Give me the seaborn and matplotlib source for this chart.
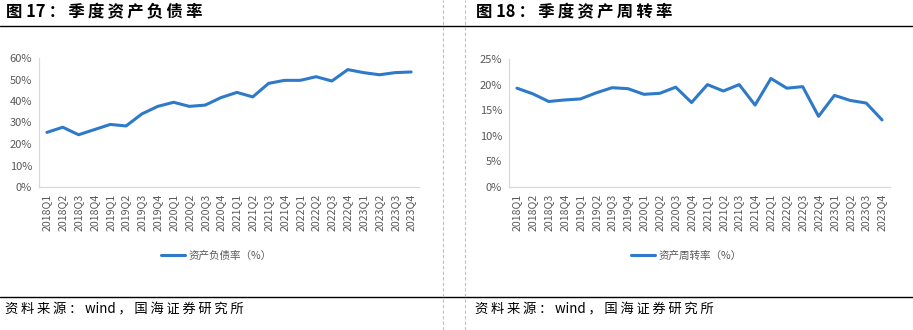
import matplotlib
matplotlib.use("Agg")
import matplotlib.pyplot as plt
from matplotlib.lines import Line2D
from matplotlib.ticker import FuncFormatter, FixedLocator
import seaborn as sns
import pandas as pd
import numpy as np

quarters = [f"{y}Q{q}" for y in range(2018, 2024) for q in range(1, 5)]
debt_ratio = [25.4, 27.8, 24.3, 26.7, 29.1, 28.4, 34.0, 37.5, 39.4, 37.5, 38.1, 41.6,
              44.0, 41.9, 48.2, 49.6, 49.6, 51.3, 49.3, 54.6, 53.2, 52.2, 53.2, 53.5]
turnover = [19.3, 18.2, 16.7, 17.0, 17.2, 18.4, 19.4, 19.2, 18.1, 18.3, 19.5, 16.5,
            20.0, 18.75, 20.0, 16.0, 21.2, 19.3, 19.6, 13.8, 17.9, 16.9, 16.4, 13.1]

title_left = "图 17：季度资产负债率"
title_right = "图 18：季度资产周转率"
legend_left = "资产负债率（%）"
legend_right = "资产周转率（%）"
source = "资料来源：wind，国海证券研究所"

sns.set_theme(style="white")
plt.rcParams['font.family'] = ['Noto Sans CJK SC', 'DejaVu Sans']

W, H = 913, 330
fig = plt.figure(figsize=(W / 100, H / 100), dpi=100)
fig.patch.set_facecolor("white")

LINE_COLOR = "#2E7AC9"
TXT = "#595959"
GRID = "#d9d9d9"
THIN = "\u2009"


def spaced(s):
    out = ""
    for i, ch in enumerate(s):
        out += ch
        if i + 1 < len(s):
            nxt = s[i + 1]
            if (ord(ch) > 127 or ord(nxt) > 127) and ch != " " and nxt != " ":
                out += THIN
    return out


def px_axes(x0, y_top, x1, y_bot):
    return fig.add_axes([x0 / W, (H - y_bot) / H, (x1 - x0) / W, (y_bot - y_top) / H])


def draw(ax, values, ymax, ystep, label, legend_cx):
    df = pd.DataFrame({"q": quarters, "v": values})
    sns.lineplot(data=df, x="q", y="v", ax=ax, color=LINE_COLOR, linewidth=2.2,
                 label=label, sort=False)
    n = len(quarters)
    ax.set_xlim(-0.5, n - 0.5)
    ax.set_ylim(0, ymax)
    ax.set_yticks(np.arange(0, ymax + 0.001, ystep))
    ax.yaxis.set_major_formatter(FuncFormatter(lambda v, p: f"{v:.0f}%"))
    ax.set_xticks(range(n))
    ax.set_xticklabels(quarters, rotation=90)
    ax.xaxis.set_minor_locator(FixedLocator(np.arange(-0.5, n, 1.0)))
    ax.tick_params(axis="x", which="major", length=0, pad=5, labelsize=7.6, labelcolor=TXT)
    ax.tick_params(axis="x", which="minor", length=4, width=0.8, color=GRID, direction="out")
    ax.tick_params(axis="y", which="major", length=0, pad=5, labelsize=8, labelcolor=TXT)
    ax.set_xlabel("")
    ax.set_ylabel("")
    for s in ["top", "right"]:
        ax.spines[s].set_visible(False)
    for s in ["left", "bottom"]:
        ax.spines[s].set_color(GRID)
        ax.spines[s].set_linewidth(0.9)
    ax.grid(False)
    ax.set_facecolor("white")
    ax.legend(loc="center", bbox_to_anchor=(legend_cx / W, (H - 256) / H),
              bbox_transform=fig.transFigure, frameon=False, fontsize=7.6,
              handlelength=2.3, handletextpad=0.3, labelcolor=TXT)


ax1 = px_axes(39, 58, 419, 187)
draw(ax1, debt_ratio, 60, 10, legend_left, 216)
ax2 = px_axes(509, 59, 890, 187)
draw(ax2, turnover, 25, 5, legend_right, 686)

# titles
fig.text(6 / W, 1 - 12 / H, spaced(title_left), fontsize=11.8, fontweight="bold",
         va="center", ha="left", color="black")
fig.text(476 / W, 1 - 12 / H, spaced(title_right), fontsize=11.8, fontweight="bold",
         va="center", ha="left", color="black")
# source
fig.text(5 / W, 1 - 309 / H, spaced(source), fontsize=9.6, va="center", ha="left", color="black")
fig.text(475 / W, 1 - 309 / H, spaced(source), fontsize=9.6, va="center", ha="left", color="black")

# horizontal rules
for yy in (25.5, 297):
    fig.add_artist(Line2D([0, 1], [1 - yy / H, 1 - yy / H], transform=fig.transFigure,
                          color="black", linewidth=1.0))
# dashed separators
for xx in (442.5, 464.5):
    fig.add_artist(Line2D([xx / W, xx / W], [0, 1], transform=fig.transFigure,
                          color="#c0c0c0", linewidth=0.8, linestyle=(0, (3, 2))))

fig.savefig("out.png", dpi=100, facecolor="white")
